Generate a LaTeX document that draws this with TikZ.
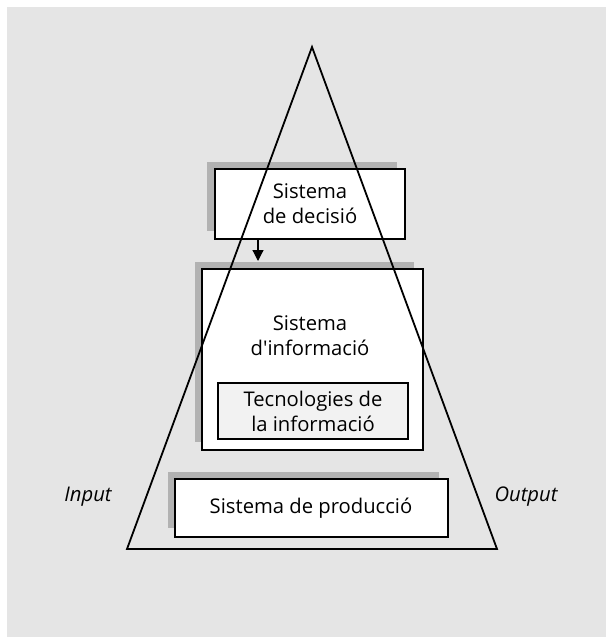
\documentclass[tikz,border=0pt]{standalone}
\usepackage{fontspec}
\setmainfont{Open Sans}[Ligatures=TeXOff]
\usetikzlibrary{arrows.meta}
\begin{document}
\begin{tikzpicture}[x=1bp,y=-1bp,
  shadowbox/.style={fill=black!30,draw=none},
  mainbox/.style={fill=white,draw=black,line width=1.8bp},
  lbl/.style={font=\fontsize{20.3}{25}\selectfont,align=center,inner sep=0pt},
  side/.style={font=\fontsize{20.3}{25}\selectfont\itshape,inner sep=0pt},
  tri/.style={draw=black,line width=1.8bp,line join=miter}]
\useasboundingbox (0,0) rectangle (606,637);
\fill[black!10] (7,7) rectangle (606,637);
% decision
\fill[shadowbox] (207,162) rectangle (397,231);
\draw[mainbox] (215,169) rectangle (405,239);
\node[lbl] (dec) at (310,204) {Sistema\\de decisió};
% info
\fill[shadowbox] (195,262) rectangle (414,442);
\draw[mainbox] (202,269) rectangle (423,450);
\node[lbl] (inf) at (310,336) {Sistema\\d'informació};
\draw[fill=black!5,draw=black,line width=1.8bp] (218,383) rectangle (408,439);
\node[lbl] (tec) at (313,411) {Tecnologies de\\la informació};
% production
\fill[shadowbox] (168,472) rectangle (439,528);
\draw[mainbox] (175,479) rectangle (448,537);
\node[lbl] (prod) at (311,508) {Sistema de producció};
% arrow
\coordinate (a1) at (258,239);
\coordinate (a2) at (258,261);
\draw[line width=1.2bp,-{Triangle[length=11bp,width=11bp]}] (a1) -- (a2);
% triangle
\coordinate (apex) at (312,47);
\coordinate (bl) at (127,549);
\coordinate (br) at (497,549);
\draw[tri] (apex) -- (bl) -- (br) -- cycle;
\node[side] (in) at (88,497) {Input};
\node[side] (out) at (526,497) {Output};
\end{tikzpicture}
\end{document}
